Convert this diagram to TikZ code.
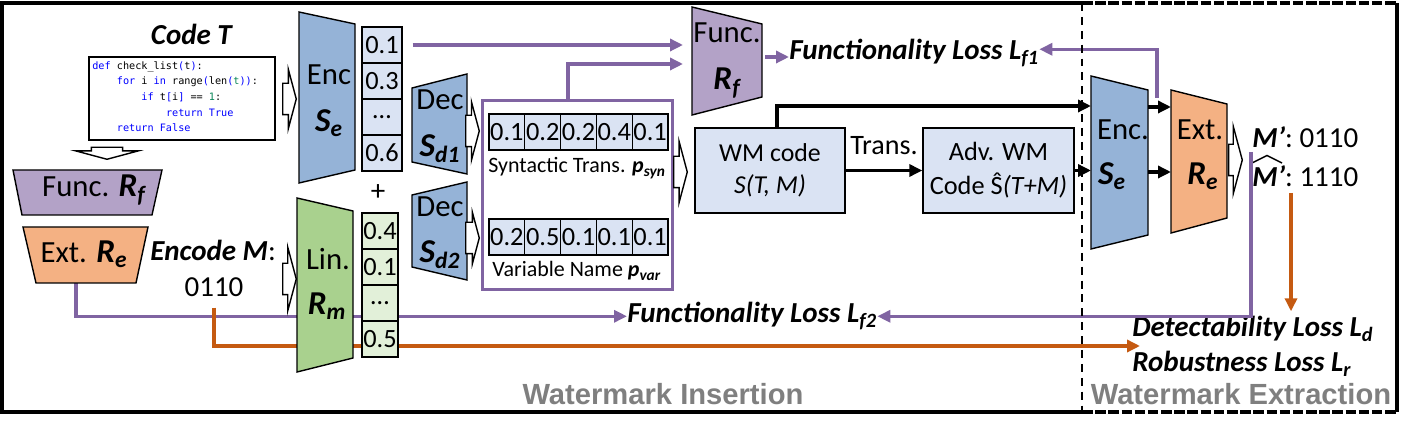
\documentclass[tikz,border=0pt]{standalone}
\usepackage{amsmath}
\usepackage{fontspec}
\setmainfont{Carlito}
\setmonofont{DejaVu Sans Mono}
\newfontfamily\stagefont{Liberation Sans}
\usetikzlibrary{arrows.meta,positioning,shapes.arrows,backgrounds}

\definecolor{encblue}{HTML}{95B3D7}
\definecolor{vecblue}{HTML}{DAE3F3}
\definecolor{lingreen}{HTML}{A9D18E}
\definecolor{vecgreen}{HTML}{E2F0D9}
\definecolor{funcpurple}{HTML}{B3A2C7}
\definecolor{extorange}{HTML}{F4B183}
\definecolor{linepurple}{HTML}{8064A2}
\definecolor{lineorange}{HTML}{C55A11}
\definecolor{stagegray}{HTML}{7F7F7F}
\definecolor{kwblue}{HTML}{0000FF}
\definecolor{numgreen}{HTML}{098658}

\newcommand{\bsym}[2]{\textbf{\textit{#1$_{\text{#2}}$}}}
\newcommand{\kw}[1]{\textcolor{kwblue}{#1}}
\newcommand{\codeind}{\hspace*{2.41em}}

\tikzset{block/.style = {draw, line width = 0.8pt},
         cell/.style = {draw, line width = 0.6pt, minimum height = 0.72cm, inner sep = 0pt, font = \fontsize{15}{18}\selectfont},
         hollow/.style = {single arrow, draw, fill = white, line width = 0.8pt, inner xsep = 0pt, inner ysep = 0.3cm,
                          single arrow tip angle = 150, single arrow head extend = #1, minimum height = 0.27cm, anchor = tip},
         wmbox/.style = {draw, fill = vecblue, line width = 0.8pt, minimum height = 1.7cm, align = center},
         word/.style = {font = \fontsize{17.5}{20}\selectfont, anchor = base, inner sep = 0pt},
         symb/.style = {font = \fontsize{19}{22}\selectfont, anchor = base, inner sep = 0pt},
         lbl/.style = {font = \fontsize{16.5}{20}\selectfont, inner sep = 0pt},
         loss/.style = {font = \fontsize{16.5}{20}\selectfont\bfseries\itshape, anchor = base west, inner sep = 0pt},
         stage/.style = {font = \stagefont\bfseries\fontsize{16.6}{20}\selectfont, text = stagegray, anchor = base, inner sep = 0pt},
         panel/.style = {line width = 2.2pt},
         plink/.style = {draw = linepurple, line width = 1.9pt, -{Triangle[length = 0.26cm, width = 0.24cm]}},
         olink/.style = {draw = lineorange, line width = 1.9pt, -{Triangle[length = 0.26cm, width = 0.24cm]}},
         blink/.style = {draw = black, line width = 1.9pt, -{Triangle[length = 0.26cm, width = 0.24cm]}},
}

\begin{document}
\begin{tikzpicture}[x = 0.02cm, y = -0.02cm]
  \useasboundingbox (0,0) rectangle (1412,431);

  % frame, extraction part dashed
  \draw[panel] (1082,3) -- (2,3) -- (2,412) -- (1082,412);
  \draw[panel, dash pattern = on 6pt off 1.5pt] (1082,3) -- (1397,3) (1082,412) -- (1397,412);
  \draw[panel] (1397,3) -- (1397,412);

  % code input
  \node[lbl, anchor = base] (codet) at (192,45) {\textbf{\textit{Code T}}};
  \node[draw, line width = 0.9pt, minimum width = 3.72cm, minimum height = 1.66cm] (code) at (182,98.5) {};
  \node[anchor = north west, inner sep = 0pt, align = left, font = \ttfamily\fontsize{5.8}{8.9}\selectfont] (codelines) at (92,61) {%
    \kw{def} check\_list\kw{(}t\kw{)}:\\
    \codeind\kw{for} i \kw{in} range\kw{(}len\kw{(}\textcolor{numgreen}{t}\kw{))}:\\
    \codeind\codeind\kw{if} t\kw{[}i\kw{]} == \textcolor{numgreen}{1}:\\
    \codeind\codeind\codeind\kw{return True}\\
    \codeind\kw{return False}};
  \node[hollow = 0.31cm, rotate = -90, minimum height = 0.24cm] (downarr) at (107,160) {};

  % left: functionality and extractor nets
  \draw[block, fill = funcpurple] (13,170) -- (162,170) -- (152,215) -- (22,215) -- cycle;
  \node[word] (rfl) at (94,197) {Func. {\fontsize{19}{22}\selectfont\bsym{R}{f}}};
  \draw[block, fill = extorange] (23,227) -- (148,227) -- (136,283) -- (36,283) -- cycle;
  \node[word] (rel) at (84,263) {Ext. {\fontsize{19}{22}\selectfont\bsym{R}{e}}};
  \coordinate (re-out) at (76,283);

  \node[lbl, anchor = base west] (encm) at (150,261) {\textbf{\textit{Encode M}}:};
  \node[lbl, anchor = base] (bits) at (214,297) {0110};

  % encoder + linear
  \node[hollow = 0.28cm] (codearr) at (297,99) {};
  \draw[block, fill = encblue] (299,12) -- (355,24) -- (355,170) -- (299,183) -- cycle;
  \node[word] (se1-a) at (329,85) {Enc};
  \node[symb] (se1-b) at (329,132) {\bsym{S}{e}};
  \foreach \v [count = \i] in {0.1,0.3,\textellipsis,0.6}
    \node[cell, fill = vecblue, minimum width = 0.8cm] (se\i) at (382,{9+36*\i}) {\v};
  \node[lbl] (plus) at (378,193) {+};

  \node[hollow = 0.32cm] (msgarr) at (297,279) {};
  \draw[block, fill = lingreen] (297,198) -- (353,211) -- (353,358) -- (297,372) -- cycle;
  \node[word] (rm-a) at (328,270) {Lin.};
  \node[symb] (rm-b) at (327,315) {\bsym{R}{m}};
  \foreach \v [count = \i] in {0.4,0.1,\textellipsis,0.5}
    \node[cell, fill = vecgreen, minimum width = 0.72cm] (rm\i) at (380,{195+36*\i}) {\v};

  % decoders
  \draw[block, fill = encblue] (412,88) -- (467,74) -- (467,174) -- (412,162) -- cycle;
  \node[word] (sd1-a) at (440,110) {Dec};
  \node[symb] (sd1-b) at (440,157) {\bsym{S}{d1}};
  \node[hollow = 0.27cm] (d1arr) at (480,131) {};
  \draw[block, fill = encblue] (412,195) -- (467,182) -- (467,280) -- (412,267) -- cycle;
  \node[word] (sd2-a) at (440,217) {Dec};
  \node[symb] (sd2-b) at (440,263) {\bsym{S}{d2}};
  \node[hollow = 0.2cm] (d2arr) at (480,238) {};

  % transformation probabilities
  \node[draw = linepurple, line width = 1.7pt, minimum width = 3.82cm, minimum height = 3.8cm] (pbox) at (577.5,195) {};
  \foreach \v [count = \i] in {0.1,0.2,0.2,0.4,0.1}
    \node[cell, fill = vecblue, minimum width = 0.716cm] (syn\i) at ({471.1+35.8*\i},132) {\v};
  \node[anchor = base west, inner sep = 0pt, font = \fontsize{12.5}{15}\selectfont] (synlab) at (488,173) {Syntactic Trans. \bsym{p}{syn}};
  \foreach \v [count = \i] in {0.2,0.5,0.1,0.1,0.1}
    \node[cell, fill = vecblue, minimum width = 0.716cm] (var\i) at ({471.1+35.8*\i},237) {\v};
  \node[anchor = base west, inner sep = 0pt, font = \fontsize{12.5}{15}\selectfont] (varlab) at (492,277) {Variable Name \bsym{p}{var}};
  \node[hollow = 0.3cm] (synarr) at (688,172) {};

  % functionality net
  \draw[block, fill = funcpurple] (692,7) -- (762,24) -- (762,97) -- (692,115) -- cycle;
  \node[word] (rf-a) at (727,43) {Func.};
  \node[symb] (rf-b) at (727,90) {\bsym{R}{f}};
  \coordinate (rf-in1) at (683,47);
  \coordinate (rf-in2) at (683,64);
  \coordinate (rf-out) at (765,57);
  \node[loss] (lf1) at (789,60) {Functionality Loss L$_{\text{f1}}$};

  % watermarked code
  \node[wmbox, minimum width = 3cm, font = \fontsize{14.7}{18.1}\selectfont] (wm) at (770,170.5) {WM code\\\textit{S(T, M)}};
  \node[wmbox, minimum width = 3.02cm, font = \fontsize{15}{19.3}\selectfont] (adv) at (998.5,170.5) {Adv. WM\\Code Ŝ\textit{(T+M)}};

  % extraction
  \draw[block, fill = encblue] (1091,76) -- (1148,90) -- (1148,235) -- (1091,249) -- cycle;
  \node[word] (se2-a) at (1123,140) {Enc.};
  \node[symb] (se2-b) at (1112,185) {\bsym{S}{e}};
  \draw[block, fill = extorange] (1171,90) -- (1227,104) -- (1227,218) -- (1171,233) -- cycle;
  \node[word] (re2-a) at (1200,140) {Ext.};
  \node[symb] (re2-b) at (1203,185) {\bsym{R}{e}};
  \coordinate (se2-in) at (1091,106);
  \coordinate (se2-up) at (1157,98);
  \coordinate (se2-o1) at (1148,107);
  \coordinate (se2-o2) at (1148,172);
  \coordinate (re2-in1) at (1171,107);
  \coordinate (re2-in2) at (1171,172);

  \node[hollow = 0.36cm] (extarr) at (1243,160) {};
  \node[lbl, anchor = base west] (mp) at (1252,148) {\textbf{\textit{M’}}: 0110};
  \node[lbl, anchor = base west] (mh) at (1252,187) {\textbf{\textit{M’}}: 1110};
  \draw[line width = 0.8pt] (1252,163) -- (1267,155.5) -- (1282,163);
  \coordinate (mp-down) at (1251,152);
  \coordinate (mh-out) at (1291,193);

  % losses
  \node[loss] (lf2) at (627,323) {Functionality Loss L$_{\text{f2}}$};
  \node[loss] (ld) at (1132,337) {Detectability Loss L$_{\text{d}}$};
  \node[loss] (lr) at (1132,372) {Robustness Loss L$_{\text{r}}$};
  \coordinate (ldr-in) at (1140,346);

  \node[stage] (ins) at (663,405) {Watermark Insertion};
  \node[stage] (extr) at (1241,405) {Watermark Extraction};

  % connectors
  \draw[plink] ([xshift = 0.2cm]se1.east) -- (se1.east -| rf-in1);
  \draw[plink] ([xshift = -0.19cm]pbox.north) |- (rf-in2);
  \draw[plink] (rf-out) -- (rf-out -| lf1.west);
  \draw[plink] (se2-up) |- ([yshift = 0.08cm]lf1.east);
  \draw[plink] (mp-down) |- (lf2.east);

  \draw[blink] ([xshift = 0.14cm]wm.north) |- (se2-in);
  \draw[blink] (wm.east) -- node[above = 0.28cm, inner sep = 0pt, font = \fontsize{16}{19}\selectfont] (translab) {Trans.} (adv.west);
  \draw[blink] (adv.east) -- (adv.east -| se2-in);
  \draw[blink] (se2-o1) -- (re2-in1);
  \draw[blink] (se2-o2) -- (re2-in2);

  \draw[olink] (mh-out) -- ([yshift = 0.1cm]ld.north -| mh-out);

  \begin{scope}[on background layer]
    \draw[plink] (re-out) |- (lf2.west);
    \draw[olink] ([yshift = -0.2cm]bits.south) |- (ldr-in);
  \end{scope}

  \draw[line width = 1.2pt, dash pattern = on 4.5pt off 3.4pt] (1082,3) -- (1082,412);

\end{tikzpicture}
\end{document}
